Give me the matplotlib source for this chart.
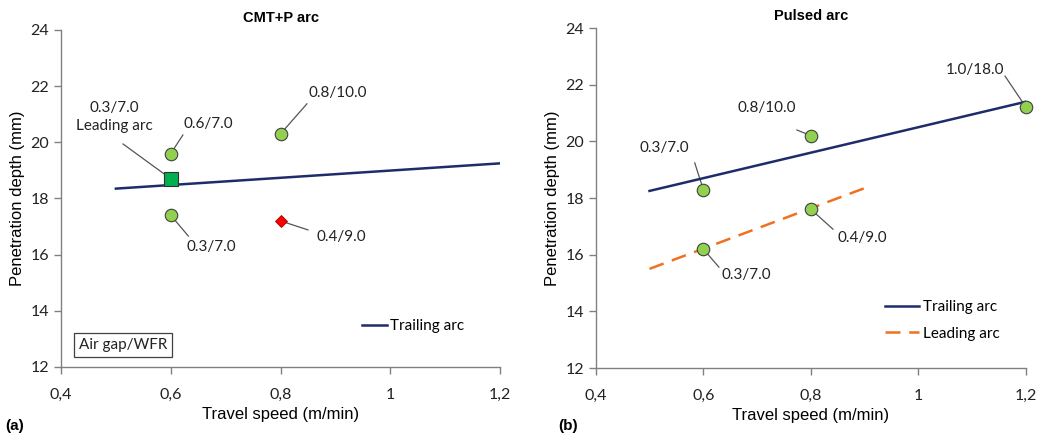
import numpy as np
import matplotlib.pyplot as plt

# panel (a) CMT+P arc
a_circle_x = [0.6, 0.6, 0.8]
a_circle_y = [19.6, 17.4, 20.3]
a_square_x = [0.6]
a_square_y = [18.7]
a_diamond_x = [0.8]
a_diamond_y = [17.2]
a_trail_x = [0.5, 1.2]
a_trail_y = [18.35, 19.25]

# panel (b) Pulsed arc
b_circle_x = [0.6, 0.8, 1.2, 0.6, 0.8]
b_circle_y = [18.3, 20.2, 21.2, 16.2, 17.6]
b_trail_x = [0.5, 1.2]
b_trail_y = [18.25, 21.4]
b_lead_x = [0.5, 0.9]
b_lead_y = [15.5, 18.35]

# annotations: (text, marker xy, text xy, leader start xy)
a_notes = [
    ("0.6/7.0", (0.6, 19.6), (0.668, 20.65), (0.622, 20.26)),
    ("0.3/7.0\nLeading arc", (0.6, 18.7), (0.497, 20.9), (0.513, 19.94)),
    ("0.3/7.0", (0.6, 17.4), (0.673, 16.27), (0.632, 16.66)),
    ("0.4/9.0", (0.8, 17.2), (0.910, 16.63), (0.85, 16.88)),
    ("0.8/10.0", (0.8, 20.3), (0.905, 21.75), (0.848, 21.37)),
]
b_notes = [
    ("1.0/18.0", (1.2, 21.2), (1.105, 22.52), (1.161, 22.3)),
    ("0.8/10.0", (0.8, 20.2), (0.718, 21.18), (0.774, 20.4)),
    ("0.3/7.0", (0.6, 18.3), (0.528, 19.76), (0.584, 19.24)),
    ("0.3/7.0", (0.6, 16.2), (0.679, 15.28), (0.629, 15.56)),
    ("0.4/9.0", (0.8, 17.6), (0.895, 16.59), (0.841, 16.9)),
]

xticks = [0.4, 0.6, 0.8, 1.0, 1.2]
xticklabels = ["0,4", "0,6", "0,8", "1", "1,2"]
yticks = [12, 14, 16, 18, 20, 22, 24]

navy = "#1f2c6b"
orange = "#f07020"
green = "#92d050"
tick_font = "Lato"
label_font = "Liberation Sans"
note_size = 11

fig = plt.figure(figsize=(10.47, 4.41), dpi=100)
ax1 = fig.add_axes([0.0583, 0.168, 0.4193, 0.764])
ax2 = fig.add_axes([0.569, 0.1655, 0.411, 0.771])


def style(ax, title):
    ax.set_xlim(0.4, 1.2)
    ax.set_ylim(12, 24)
    ax.set_xticks(xticks)
    ax.set_xticklabels(xticklabels, family=tick_font, fontsize=11.5)
    ax.set_yticks(yticks)
    ax.set_yticklabels([str(t) for t in yticks], family=tick_font, fontsize=11.5)
    for s in ["top", "right"]:
        ax.spines[s].set_visible(False)
    for s in ["left", "bottom"]:
        ax.spines[s].set_color("#808080")
        ax.spines[s].set_linewidth(1.0)
    ax.tick_params(axis="both", color="#808080", length=5, width=1, labelcolor="#222222")
    ax.tick_params(axis="x", pad=10)
    ax.set_xlabel("Travel speed (m/min)", family=label_font, fontsize=12, labelpad=4)
    ax.set_ylabel("Penetration depth (mm)", family=label_font, fontsize=12, labelpad=4)
    ax.set_title(title, family=label_font, fontsize=10.5, fontweight="bold", pad=6)


def notes(ax, items):
    for txt, xy, txy, lxy in items:
        ax.plot([lxy[0], xy[0]], [lxy[1], xy[1]], color="#555555", lw=0.9, zorder=2)
        ax.text(txy[0], txy[1], txt, family=tick_font, fontsize=note_size,
                ha="center", va="center", color="#222222", linespacing=1.4)


style(ax1, "CMT+P arc")
ax1.plot(a_trail_x, a_trail_y, color=navy, lw=1.8, label="Trailing arc", zorder=3)
notes(ax1, a_notes)
ax1.plot(a_circle_x, a_circle_y, "o", ms=9, mfc=green, mec="#404040", mew=0.8, zorder=4)
ax1.plot(a_square_x, a_square_y, "s", ms=10, mfc="#00b050", mec="#303030", mew=0.8, zorder=4)
ax1.plot(a_diamond_x, a_diamond_y, "D", ms=6.5, mfc="#ff0000", mec="#a00000", mew=0.6, zorder=4)
ax1.legend(loc="lower left", bbox_to_anchor=(0.655, 0.06), frameon=False,
           prop={"family": tick_font, "size": note_size}, handlelength=1.6,
           handletextpad=0.2)
ax1.text(0.513, 12.78, "Air gap/WFR", family=tick_font, fontsize=note_size,
         ha="center", va="center", color="#222222",
         bbox=dict(boxstyle="square,pad=0.3", fc="white", ec="#404040", lw=0.9))

style(ax2, "Pulsed arc")
ax2.plot(b_trail_x, b_trail_y, color=navy, lw=1.8, label="Trailing arc", zorder=3)
ax2.plot(b_lead_x, b_lead_y, color=orange, lw=1.8, ls=(0, (6, 3.5)), label="Leading arc", zorder=3)
notes(ax2, b_notes)
ax2.plot(b_circle_x, b_circle_y, "o", ms=9, mfc=green, mec="#404040", mew=0.8, zorder=4,
         clip_on=False)
ax2.legend(loc="lower left", bbox_to_anchor=(0.64, 0.04), frameon=False,
           prop={"family": tick_font, "size": note_size}, handlelength=2.2,
           handletextpad=0.3, labelspacing=0.8)

fig.text(0.005, 0.025, "(a)", family=label_font, fontsize=11, fontweight="bold")
fig.text(0.533, 0.025, "(b)", family=label_font, fontsize=11, fontweight="bold")

fig.savefig("out.png", dpi=100)
